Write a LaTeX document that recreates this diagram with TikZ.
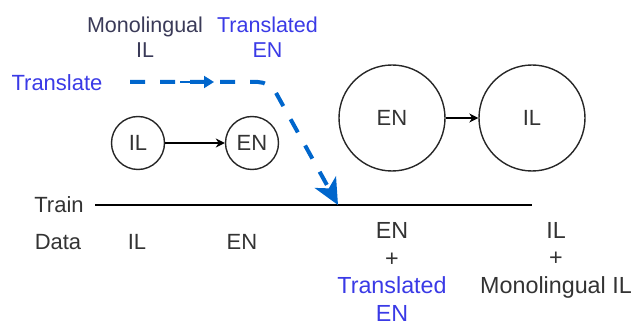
\documentclass[tikz,border=0pt]{standalone}
\usepackage{fontspec}
\setmainfont{Liberation Sans}
\usetikzlibrary{arrows.meta}

\definecolor{txtgray}{HTML}{333333}
\definecolor{txtnavy}{HTML}{3A3A58}
\definecolor{txtblue}{HTML}{3A3AE6}
\definecolor{flowblue}{HTML}{0066CC}

\tikzset{
  lbl/.style={inner sep=0pt, text=txtgray, font=\fontsize{22}{27}\selectfont, align=center},
  stacklbl/.style={lbl, font=\fontsize{23.3}{27.5}\selectfont},
  toplbl/.style={lbl, font=\fontsize{21.5}{25}\selectfont},
  model/.style={circle, draw=black!85, line width=1.4pt, inner sep=0pt, text=txtgray,
                font=\fontsize{22}{27}\selectfont},
  small/.style={model, minimum size=53pt},
  big/.style={model, minimum size=106pt},
  link/.style={black, line width=1.4pt, -{Stealth[length=9pt,width=9pt]}},
  flow/.style={flowblue, line width=4pt, dash pattern=on 15pt off 15pt, rounded corners=12pt,
               -{Stealth[length=26pt,width=24pt,inset=7pt]}},
  flowmid/.style={flowblue, line width=2pt, -{Triangle[length=10pt,width=12pt]}},
}

\begin{document}
\begin{tikzpicture}[x=1pt,y=-1pt]
  \useasboundingbox (0,0) rectangle (637,326);

  % labels above the translation flow
  \node[toplbl, text=txtnavy] (mono) at (145,37.5) {Monolingual\\IL};
  \node[toplbl, text=txtblue] (trans) at (267.5,37.5) {Translated\\EN};
  \node[lbl, text=txtblue] (translate) at (57,83) {Translate};

  % models
  \node[small] (il1) at (138,143) {IL};
  \node[small] (en1) at (252,143) {EN};
  \node[big] (en2) at (392,118) {EN};
  \node[big] (il2) at (532,118) {IL};
  \draw[link] (il1) -- (en1);
  \draw[link] (en2) -- (il2);

  % training timeline
  \coordinate (tl0) at (95,205);
  \coordinate (tl1) at (532,205);
  \draw[black, line width=1.4pt] (tl0) -- (tl1);
  \node[lbl] (train) at (59,205) {Train};
  \node[lbl] (data) at (58,242) {Data};
  \node[lbl] (d1) at (137,242) {IL};
  \node[lbl] (d2) at (242,242) {EN};
  \node[stacklbl] (d3) at (392,272) {EN\\+\\\textcolor{txtblue}{Translated}\\\textcolor{txtblue}{EN}};
  \node[stacklbl] (d4) at (556,260) {IL\\+\\Monolingual IL};

  % translated data flowing into the third stage
  \coordinate (f0) at (130,82);
  \coordinate (fc) at (270,82);
  \coordinate (f1) at (338,205);
  \coordinate (m0) at (180,82);
  \coordinate (m1) at (214,82);
  \draw[flow] (f0) -- (fc) -- (f1);
  \draw[flowmid] (m0) -- (m1);
\end{tikzpicture}
\end{document}
